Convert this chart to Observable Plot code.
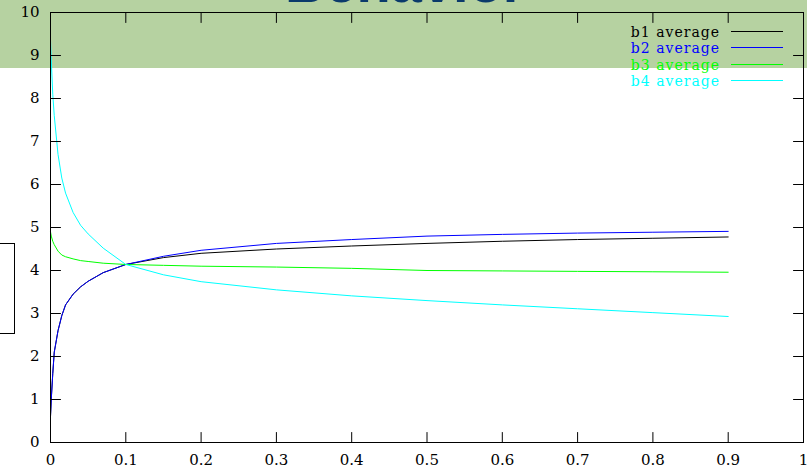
<!DOCTYPE html>
<html>
<head>
<meta charset="utf-8">
<script src="https://cdn.jsdelivr.net/npm/d3@7"></script>
<script src="https://cdn.jsdelivr.net/npm/@observablehq/plot@0.6"></script>
<style>
  html, body { margin: 0; padding: 0; background: #fff; }
  #wrap { position: relative; width: 807px; height: 472px; overflow: hidden; background: #fff; }
  #band { position: absolute; left: 0; top: 0; width: 807px; height: 68px; background: #b6d2a1; }
  #title { position: absolute; left: 285px; top: -45px; font: bold 56px/56px "Liberation Sans", Arial, sans-serif; color: #0b3a6b; white-space: nowrap; }
  #box { position: absolute; left: -2px; top: 243px; width: 15px; height: 89px; border: 1px solid #000; background: #fff; }
  #chart { position: absolute; left: 0; top: 0; }
  .legtext { position: absolute; right: 87px; font: 14px/14px "DejaVu Serif", serif; letter-spacing: 1px; white-space: nowrap; z-index: 2; }
  .legline { position: absolute; left: 731px; width: 52px; height: 1px; z-index: 2; }
</style>
</head>
<body>
<div id="wrap">
  <div id="band"></div>
  <div id="title">Behavior</div>
  <div id="box"></div>
  <div id="chart"></div>
</div>
<script>
const xs = [0, 0.001, 0.003, 0.005, 0.01, 0.015, 0.02, 0.03, 0.04, 0.05, 0.07, 0.1, 0.15, 0.2, 0.3, 0.4, 0.5, 0.6, 0.7, 0.8, 0.9];
const b1 = [0.6, 1.0, 1.6, 2.1, 2.6, 2.95, 3.2, 3.45, 3.62, 3.75, 3.95, 4.14, 4.3, 4.4, 4.5, 4.57, 4.63, 4.68, 4.72, 4.75, 4.78];
const b2 = [0.6, 1.0, 1.6, 2.1, 2.6, 2.95, 3.2, 3.45, 3.62, 3.75, 3.95, 4.14, 4.33, 4.47, 4.63, 4.72, 4.8, 4.84, 4.87, 4.89, 4.91];
const b3 = [4.9, 4.8, 4.68, 4.6, 4.45, 4.36, 4.32, 4.27, 4.23, 4.21, 4.17, 4.14, 4.12, 4.1, 4.08, 4.05, 4.0, 3.99, 3.98, 3.97, 3.96];
const b4 = [9.35, 8.9, 8.1, 7.6, 6.7, 6.15, 5.8, 5.35, 5.05, 4.85, 4.52, 4.14, 3.9, 3.74, 3.55, 3.41, 3.3, 3.2, 3.11, 3.02, 2.93];
const seriesNames = ["b1 average", "b2 average", "b3 average", "b4 average"];
const seriesValues = [b1, b2, b3, b4];
const seriesColors = ["#000000", "#0000ff", "#00ff00", "#00ffff"];
const xTicks = [0, 0.1, 0.2, 0.3, 0.4, 0.5, 0.6, 0.7, 0.8, 0.9, 1];
const xTickLabels = ["0", "0.1", "0.2", "0.3", "0.4", "0.5", "0.6", "0.7", "0.8", "0.9", "1"];
const yTicks = [0, 1, 2, 3, 4, 5, 6, 7, 8, 9, 10];
const yTickLabels = ["0", "1", "2", "3", "4", "5", "6", "7", "8", "9", "10"];

const rows = [];
seriesNames.forEach((name, s) => {
  xs.forEach((x, i) => rows.push({series: name, x, y: seriesValues[s][i]}));
});

const tickShape = {
  draw(context, l) { context.moveTo(0, 0); context.lineTo(0, -l); }
};
const innerX = xTicks.slice(1, -1);
const innerY = yTicks.slice(1, -1);
const tickOpts = {length: 10, anchor: "start", shape: tickShape, stroke: "black", strokeWidth: 1};

const chart = Plot.plot({
  width: 807,
  height: 472,
  marginLeft: 50,
  marginRight: 4,
  marginTop: 12,
  marginBottom: 30,
  x: {domain: [0, 1]},
  y: {domain: [0, 10]},
  color: {domain: seriesNames, range: seriesColors},
  style: {background: "transparent", fontFamily: "DejaVu Serif", fontSize: "15px", color: "black"},
  marks: [
    Plot.line(rows, {x: "x", y: "y", z: "series", stroke: "series", strokeWidth: 1}),
    Plot.frame({stroke: "black", strokeWidth: 1}),
    Plot.vector(innerX, {...tickOpts, x: d => d, y: () => 0, rotate: 0}),
    Plot.vector(innerX, {...tickOpts, x: d => d, y: () => 10, rotate: 180}),
    Plot.vector(innerY, {...tickOpts, x: () => 0, y: d => d, rotate: 90}),
    Plot.vector(innerY, {...tickOpts, x: () => 1, y: d => d, rotate: -90}),
    Plot.axisX({ticks: xTicks, tickSize: 0, tickPadding: 12, fontSize: 15, label: null,
      tickFormat: d => xTickLabels[xTicks.indexOf(d)]}),
    Plot.axisY({ticks: yTicks, tickSize: 0, tickPadding: 11, fontSize: 15, label: null,
      tickFormat: d => yTickLabels[yTicks.indexOf(d)]})
  ]
});
document.getElementById("chart").appendChild(chart);

const wrap = document.getElementById("wrap");
seriesNames.forEach((name, i) => {
  const t = document.createElement("div");
  t.className = "legtext";
  t.style.top = Math.round(25 + i * 16.3) + "px";
  t.style.color = seriesColors[i];
  t.textContent = name;
  wrap.appendChild(t);
  const l = document.createElement("div");
  l.className = "legline";
  l.style.top = Math.round(31 + i * 16.3) + "px";
  l.style.backgroundColor = seriesColors[i];
  wrap.appendChild(l);
});
</script>
</body>
</html>
